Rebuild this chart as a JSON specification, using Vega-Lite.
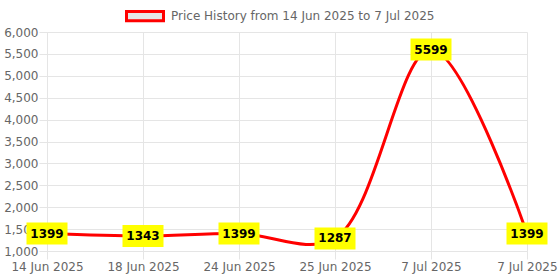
{
  "$schema": "https://vega.github.io/schema/vega-lite/v6.json",
  "width": 480,
  "height": 219,
  "autosize": {"type": "none"},
  "padding": {"left": 47, "top": 32, "right": 33, "bottom": 29},
  "background": "#ffffff",
  "config": {
    "view": {"stroke": null},
    "font": "DejaVu Sans",
    "axis": {
      "labelFont": "DejaVu Sans",
      "labelFontSize": 12,
      "labelColor": "#666666",
      "gridColor": "#e5e5e5",
      "tickColor": "#e5e5e5",
      "domainColor": "#e5e5e5",
      "tickSize": 8,
      "title": null
    }
  },
  "data": {
    "values": [
      {"date": "14 Jun 2025", "price": 1399},
      {"date": "18 Jun 2025", "price": 1343},
      {"date": "24 Jun 2025", "price": 1399},
      {"date": "25 Jun 2025", "price": 1287},
      {"date": "7 Jul 2025", "price": 5599},
      {"date": "7 Jul 2025 ", "price": 1399}
    ]
  },
  "encoding": {
    "x": {
      "field": "date",
      "type": "ordinal",
      "sort": null,
      "scale": {"type": "point", "padding": 0},
      "axis": {"labelAngle": 0, "labelExpr": "trim(datum.value)", "labelPadding": 2, "grid": true}
    },
    "y": {
      "field": "price",
      "type": "quantitative",
      "scale": {"domain": [1000, 6000], "nice": false, "zero": false},
      "axis": {"values": [1000, 1500, 2000, 2500, 3000, 3500, 4000, 4500, 5000, 5500, 6000], "format": ",.0f", "labelPadding": 1}
    }
  },
  "layer": [
    {
      "mark": {"type": "line", "interpolate": "catmull-rom", "strokeWidth": 3, "clip": true},
      "encoding": {
        "color": {
          "datum": "Price History from 14 Jun 2025 to 7 Jul 2025",
          "type": "nominal",
          "scale": {"range": ["#ff0000"]},
          "legend": {
            "title": null,
            "orient": "none",
            "legendX": 78,
            "legendY": -36,
            "padding": 0,
            "labelFont": "DejaVu Sans",
            "labelFontSize": 12,
            "labelColor": "#666666",
            "labelOffset": 6,
            "labelLimit": 0,
            "symbolType": "M-1,-0.25L1,-0.25L1,0.25L-1,0.25Z",
            "symbolSize": 1369,
            "symbolStrokeWidth": 3,
            "symbolFillColor": "#e6e6e6",
            "symbolStrokeColor": "#ff0000",
            "symbolOpacity": 1,
            "encode": {
              "symbols": {
                "update": {
                  "fill": {"value": "#e6e6e6"},
                  "fillOpacity": {"value": 1},
                  "stroke": {"value": "#ff0000"},
                  "strokeWidth": {"value": 3},
                  "opacity": {"value": 1}
                }
              }
            }
          }
        }
      }
    },
    {
      "mark": {
        "type": "point",
        "shape": "M-1,-0.537L1,-0.537L1,0.537L-1,0.537Z",
        "size": 1681,
        "filled": true,
        "color": "#ffff00",
        "opacity": 1,
        "strokeWidth": 0
      }
    },
    {
      "mark": {"type": "text", "font": "DejaVu Sans", "fontSize": 12, "fontWeight": "bold", "color": "#000000", "baseline": "middle", "align": "center"},
      "encoding": {"text": {"field": "price", "type": "quantitative", "format": "d"}}
    }
  ]
}
